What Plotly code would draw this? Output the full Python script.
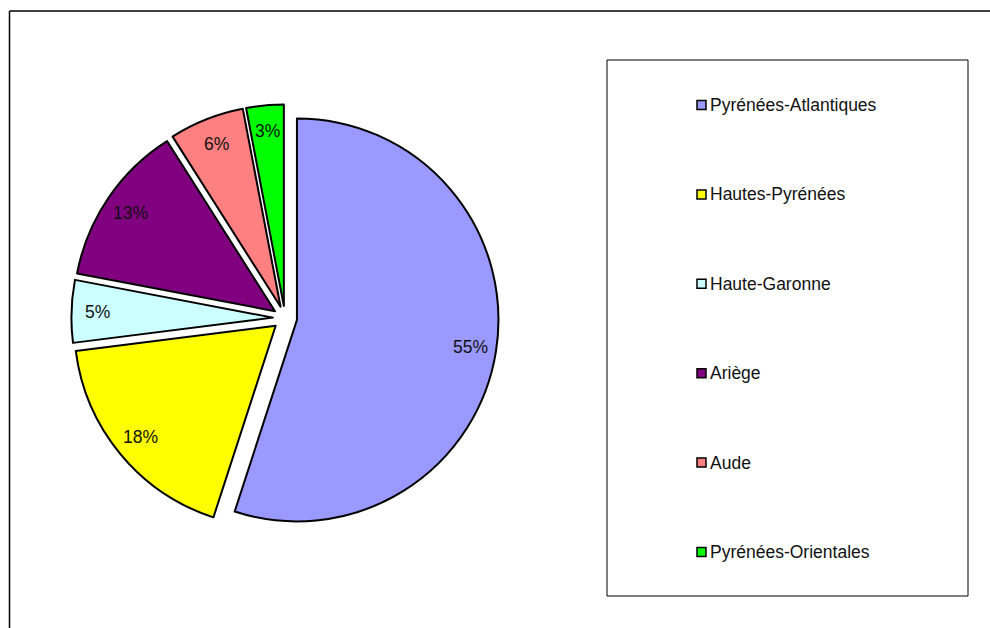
import math
import plotly.graph_objects as go

departements = ["Pyrénées-Atlantiques", "Hautes-Pyrénées", "Haute-Garonne",
                "Ariège", "Aude", "Pyrénées-Orientales"]
parts = [55, 18, 5, 13, 6, 3]
couleurs = ["#9999FF", "#FFFF00", "#CCFFFF", "#800080", "#FF8080", "#00FF00"]

W, H = 990, 628
FONT = "Liberation Sans, Arial, sans-serif"

# pie geometry (pixels)
CX, CY, R, PULL = 285, 318, 201.5, 0.06
half = R * (1 + PULL)

fig = go.Figure()
fig.add_trace(go.Pie(
    labels=departements,
    values=parts,
    sort=False,
    direction="clockwise",
    rotation=0,
    pull=[PULL] * len(parts),
    marker=dict(colors=couleurs, line=dict(color="#000000", width=2)),
    textinfo="none",
    domain=dict(x=[(CX - half) / W, (CX + half) / W],
                y=[1 - (CY + half) / H, 1 - (CY - half) / H]),
    showlegend=False,
    hoverinfo="label+percent",
))

annotations = []
# percentage labels placed along each slice's mid-angle (derived from the values)
total = sum(parts)
cum = 0.0
for v in parts:
    mid = (cum + v / 2) / total * 2 * math.pi
    cum += v
    ux, uy = math.sin(mid), -math.cos(mid)
    px = CX + R * PULL * ux + 0.87 * R * ux
    py = CY + R * PULL * uy + 0.87 * R * uy
    annotations.append(dict(text=f"{round(v / total * 100)}%", xref="paper", yref="paper",
                            x=px / W, y=1 - py / H, xanchor="center", yanchor="middle",
                            showarrow=False, font=dict(family=FONT, size=17.5, color="#111111")))

shapes = [
    # outer chart frame (top and left edges visible)
    dict(type="line", xref="paper", yref="paper", x0=9.5 / W, x1=1, y0=1 - 11 / H, y1=1 - 11 / H,
         line=dict(color="#000000", width=1.5)),
    dict(type="line", xref="paper", yref="paper", x0=9.5 / W, x1=9.5 / W, y0=0, y1=1 - 11 / H,
         line=dict(color="#000000", width=1.5)),
    # legend box
    dict(type="rect", xref="paper", yref="paper", x0=607 / W, x1=968 / W, y0=1 - 596 / H, y1=1 - 60 / H,
         line=dict(color="#000000", width=1), fillcolor="rgba(0,0,0,0)"),
]
y_first, step = 105, 89.4
for i, (name, col) in enumerate(zip(departements, couleurs)):
    yc = y_first + i * step
    shapes.append(dict(type="rect", xref="paper", yref="paper",
                       x0=697 / W, x1=706 / W, y0=1 - (yc + 4.5) / H, y1=1 - (yc - 4.5) / H,
                       fillcolor=col, line=dict(color="#000000", width=1.5)))
    annotations.append(dict(text=name, xref="paper", yref="paper", x=708 / W, y=1 - yc / H,
                            xanchor="left", yanchor="middle", showarrow=False,
                            font=dict(family=FONT, size=17.5, color="#111111")))

fig.update_layout(
    width=W, height=H,
    margin=dict(l=0, r=0, t=0, b=0),
    paper_bgcolor="#ffffff",
    plot_bgcolor="#ffffff",
    shapes=shapes,
    annotations=annotations,
    font=dict(family=FONT),
)

fig.write_html("out.html")
